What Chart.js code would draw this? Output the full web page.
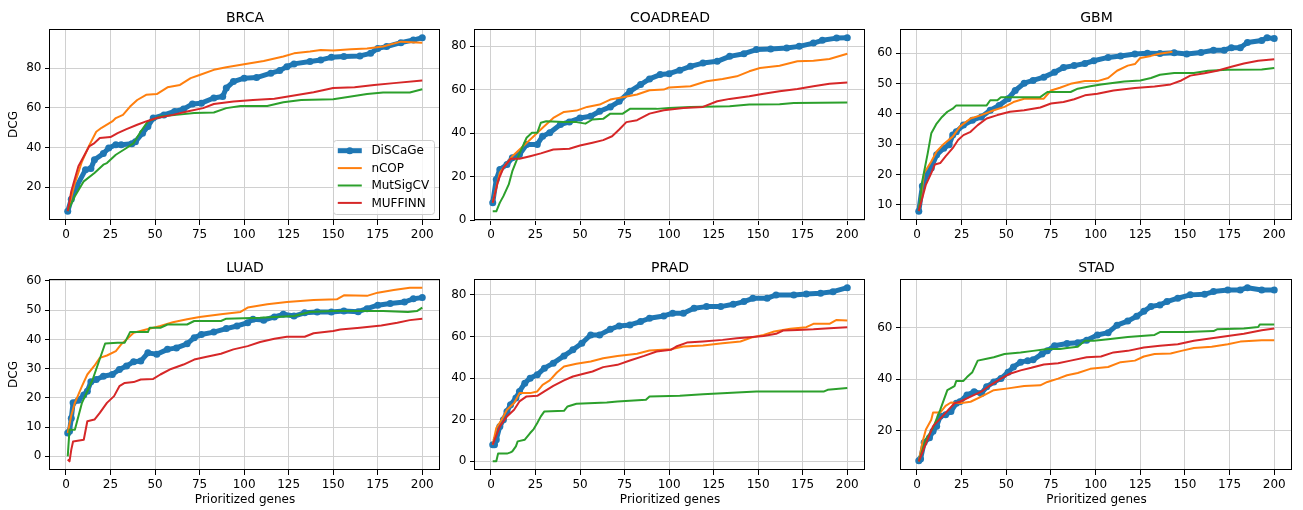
<!DOCTYPE html>
<html>
<head>
<meta charset="utf-8">
<script src="https://cdn.jsdelivr.net/npm/chart.js@4/dist/chart.umd.min.js"></script>
<style>
  body { margin: 0; background: #fff; }
  canvas { position: absolute; }
</style>
</head>
<body>
<canvas id="c0"></canvas>
<canvas id="c1"></canvas>
<canvas id="c2"></canvas>
<canvas id="c3"></canvas>
<canvas id="c4"></canvas>
<canvas id="c5"></canvas>
<script>
// ---- data ----
var PANELS = ["BRCA", "COADREAD", "GBM", "LUAD", "PRAD", "STAD"];
var METHODS = ["DiSCaGe", "nCOP", "MutSigCV", "MUFFINN"];
var X_TICKS = [0, 25, 50, 75, 100, 125, 150, 175, 200];
var X_LABEL = "Prioritized genes";
var Y_LABEL = "DCG";

var BRCA_Y_TICKS = [20, 40, 60, 80];
var COADREAD_Y_TICKS = [0, 20, 40, 60, 80];
var GBM_Y_TICKS = [10, 20, 30, 40, 50, 60];
var LUAD_Y_TICKS = [0, 10, 20, 30, 40, 50, 60];
var PRAD_Y_TICKS = [0, 20, 40, 60, 80];
var STAD_Y_TICKS = [20, 40, 60];

// [gene rank, DCG]
var BRCA_DISCAGE = [[1,7.9],[3,14],[6,20.5],[11,28.9],[14,29.5],[16,33.9],[21,37],[24,39.8],[28,41.5],[31,41.5],[37,42],[39,43],[43,47.3],[46,50.7],[49,54.9],[55,56.5],[61,58.2],[66,59.4],[71,62],[76,62.4],[83,65],[88,65.8],[90,70],[94,73.3],[100,75],[107,75.3],[115,77.5],[120,78.8],[124,80.8],[128,82.2],[137,83.4],[143,84.2],[149,85.5],[156,85.9],[165,86.2],[171,87.5],[175,90],[180,90.9],[188,92.9],[195,94.2],[200,95.4]];
var BRCA_NCOP = [[1,8],[5,22],[9,33],[13,41],[17,48],[20,50],[26,53.2],[28,54.9],[32,56.5],[36,60.7],[40,64],[45,66.6],[51,67],[57,70.4],[64,71.6],[70,75],[75,76.6],[83,79.2],[90,80.5],[100,82],[111,83.7],[122,85.9],[128,87.5],[137,88.4],[143,89.2],[150,88.9],[160,89.6],[169,90],[178,91],[188,93.4],[200,92.9]];
var BRCA_MUTSIGCV = [[1,8],[5,15.5],[10,23],[16,27.2],[21,31.4],[23,32.2],[28,36.4],[34,39.8],[38,42.3],[42,48.1],[46,53.2],[53,55.7],[62,56.5],[72,57.4],[83,57.7],[90,59.9],[98,61],[113,61],[122,62.9],[132,64],[150,64.4],[160,65.8],[169,67],[178,67.8],[193,67.8],[200,69.4]];
var BRCA_MUFFINN = [[1,8],[3,18],[7,30.6],[13,40.6],[16,42.3],[19,44.8],[25,45.3],[29,47.3],[34,49.3],[40,51.5],[45,53.2],[51,54.9],[60,56.5],[68,58.2],[77,59.9],[83,62],[94,63.2],[105,64],[117,64.6],[128,66.3],[139,67.9],[150,70],[162,70.4],[173,71.5],[184,72.5],[200,73.8]];

var COADREAD_DISCAGE = [[1,8],[3,18.7],[5,23.3],[9,25.6],[12,28.7],[16,30.2],[20,34.8],[26,34.8],[29,38.6],[33,40.2],[39,44],[44,45.2],[50,47],[56,47.8],[61,50.1],[67,52.1],[72,54.7],[78,59.3],[84,62.4],[89,65],[95,67],[100,67.4],[106,69],[112,70.8],[119,72.3],[127,73.1],[134,75.4],[142,76.6],[149,78.5],[157,78.8],[166,79.2],[173,80],[181,81.5],[186,82.8],[194,83.8],[200,84]];
var COADREAD_NCOP = [[1,8],[5,21.8],[12,29.4],[18,34],[24,38.6],[29,42.5],[35,47],[41,49.8],[48,50.4],[54,52.1],[61,53.2],[67,55.5],[74,56.6],[82,57.8],[89,59.8],[97,60.1],[100,61.1],[112,61.6],[121,63.9],[130,65],[138,66.2],[145,68.5],[151,70],[162,71.1],[172,73.1],[181,73.4],[190,74.2],[200,76.6]];
var COADREAD_MUTSIGCV = [[1,4],[3,4],[5,8],[7,11],[10,16.4],[12,22.5],[15,28.7],[20,37.9],[23,40.2],[26,40.2],[28,44.8],[31,45.5],[41,45.1],[48,45.1],[53,44.4],[57,46.3],[63,46.6],[67,49],[74,49],[78,51.2],[93,51.2],[100,51.6],[112,52.1],[134,52.4],[145,53.2],[162,53.3],[170,53.9],[200,54.1]];
var COADREAD_MUFFINN = [[1,8],[4,18],[7,24],[11,28.2],[16,28.2],[22,29.4],[28,30.7],[35,32.5],[44,32.8],[50,34.3],[57,35.6],[63,36.8],[68,38.6],[72,41.7],[76,45.1],[82,46],[89,49],[97,50.6],[108,51.6],[119,52.1],[127,54.7],[134,55.8],[145,57],[153,58.2],[162,59.3],[172,60.4],[181,61.6],[190,62.8],[200,63.4]];

var GBM_DISCAGE = [[1,7.9],[3,16.2],[6,20.5],[8,22.2],[11,26.5],[15,28.7],[18,29.8],[20,33],[22,34.1],[26,36.3],[31,37.9],[36,39],[41,41.2],[46,42.8],[51,45],[55,47.7],[60,50.1],[65,51],[71,52.1],[77,53.7],[82,55.3],[88,55.9],[94,56.6],[99,57.5],[107,58.6],[114,59.1],[122,59.7],[129,60],[136,59.9],[144,60.1],[151,59.7],[159,60.2],[166,61],[172,61],[176,61.8],[181,61.8],[185,63.5],[193,64.2],[196,65.1],[200,64.8]];
var GBM_NCOP = [[1,8],[4,20.5],[8,24.3],[11,27.6],[15,30.1],[20,32.5],[24,35.8],[30,38.5],[36,39.6],[43,41.2],[49,42.3],[54,43.9],[60,45],[71,45],[75,47.7],[80,48.6],[86,49.9],[94,50.8],[101,50.8],[107,51.8],[112,54.2],[118,55.9],[122,56.4],[125,58.4],[131,59.1],[135,59.7],[143,60.5]];
var GBM_MUTSIGCV = [[1,8],[3,18],[6,27],[8,33.6],[11,36.8],[14,39],[17,40.7],[20,41.7],[22,42.8],[39,42.8],[41,44.5],[45,44.5],[47,45.5],[69,45.5],[73,47.2],[86,47.2],[90,48.3],[97,49.1],[103,49.7],[116,50.7],[125,51],[131,51.8],[136,52.9],[144,53.5],[155,53.5],[163,54.2],[174,54.5],[193,54.6],[200,55.1]];
var GBM_MUFFINN = [[1,8],[5,16.7],[8,20.5],[10,23.3],[13,23.8],[16,26],[20,28.7],[23,31.4],[26,33],[30,34.1],[34,36.3],[39,38.5],[45,39.6],[52,40.7],[60,41.2],[69,42.1],[75,43.4],[82,43.9],[88,44.8],[94,46.1],[101,46.6],[110,47.7],[122,48.5],[133,49],[142,49.7],[148,51],[153,52.6],[161,53.4],[168,54.2],[176,55.5],[183,56.6],[191,57.5],[200,58]];

var LUAD_DISCAGE = [[1,8],[2,8.6],[3,13],[4,18.3],[7,19.2],[10,21],[12,22.3],[14,25.5],[17,26.3],[21,27.4],[26,28],[30,29.7],[34,30.9],[38,32.4],[42,32.6],[46,35.4],[51,34.9],[57,36.6],[62,37.1],[68,38.5],[72,40.6],[76,41.7],[83,42.5],[90,43.7],[96,44.6],[102,45.7],[105,46.9],[111,46.6],[117,47.7],[122,48.6],[128,48],[134,49.1],[141,49.4],[149,49.4],[156,49.7],[164,49.5],[169,50.5],[175,51.7],[182,52.3],[190,52.8],[195,53.9],[200,54.3]];
var LUAD_NCOP = [[1,8],[3,14],[5,18.3],[9,24],[12,28],[16,31],[19,33.7],[23,34.5],[28,36],[31,38.3],[34,40],[38,42.3],[45,43.4],[53,44.6],[60,45.9],[68,46.9],[75,47.7],[87,48.6],[98,49.4],[102,50.9],[113,52],[124,52.8],[139,53.5],[152,53.7],[156,55.1],[169,54.9],[175,56],[184,56.9],[193,57.7],[200,57.7]];
var LUAD_MUTSIGCV = [[1,0],[2,9.1],[5,9.1],[9,18.3],[15,26.3],[22,38.6],[29,38.9],[33,38.9],[36,42.5],[46,42.5],[47,44],[53,44],[57,45.1],[68,45.1],[72,46.3],[87,46.3],[90,47.1],[109,47.4],[128,48],[137,49.4],[150,49.7],[178,49.7],[192,49.4],[197,49.7],[200,50.9]];
var LUAD_MUFFINN = [[1,-1.1],[2,-1.7],[3,2.3],[4,5.1],[10,5.7],[12,12],[16,12.6],[19,14.9],[23,18.3],[27,20.6],[30,24],[33,25.1],[38,25.4],[42,26.3],[49,26.5],[53,28],[59,29.9],[66,31.4],[72,33.1],[79,34.1],[87,35.1],[94,36.6],[102,37.7],[109,39.1],[117,40.2],[124,40.9],[134,40.9],[139,42.1],[150,42.9],[154,43.4],[165,44],[177,44.8],[186,45.7],[193,46.6],[200,47.1]];

var PRAD_DISCAGE = [[1,8],[2,8],[3,10.4],[5,16.8],[7,20],[9,24],[11,27.2],[14,30.4],[16,33.6],[19,37.6],[22,40],[26,41.6],[30,44.8],[35,47.2],[41,50.7],[46,53.6],[51,56.8],[56,60.8],[61,60.8],[67,63.5],[72,65.1],[78,65.6],[84,67.2],[89,68.8],[97,69.9],[102,71.2],[108,71.2],[114,73.6],[121,74.4],[129,74.4],[136,75.5],[142,76.8],[147,78.4],[155,78.4],[160,80],[170,80],[177,80.5],[185,80.8],[192,81.6],[200,83.5]];
var PRAD_NCOP = [[1,8],[3,16],[6,20],[9,24.8],[13,28],[16,32.8],[22,32.8],[26,33.6],[29,36.8],[33,38.9],[37,42.7],[41,45.6],[48,46.9],[56,48],[63,49.6],[71,50.7],[82,51.7],[89,53.3],[101,53.9],[108,55.2],[119,55.7],[130,56.8],[140,57.6],[147,59.7],[153,60.8],[159,62.4],[168,63.7],[177,64.5],[181,66.1],[190,66.1],[194,68],[200,67.7]];
var PRAD_MUTSIGCV = [[1,0],[3,0],[4,3.7],[9,3.7],[11,4.3],[12,4.8],[14,7.2],[15,9.6],[19,10.4],[22,13.6],[24,15.5],[26,18.4],[28,21.6],[30,24],[41,24.3],[43,26.4],[48,27.7],[65,28.3],[71,28.8],[87,29.6],[89,31.2],[106,31.5],[119,32.3],[138,33.1],[149,33.6],[187,33.6],[189,34.4],[200,35.2]];
var PRAD_MUFFINN = [[1,8],[5,16.8],[9,21.6],[13,24.8],[16,28.8],[20,31.2],[26,31.5],[30,33.6],[35,36.3],[41,38.9],[46,40.8],[52,42.1],[57,43.2],[63,45.3],[71,46.4],[78,48.5],[86,50.7],[93,52.8],[101,53.6],[104,55.2],[110,57.1],[119,57.6],[130,58.4],[138,59.2],[145,59.7],[153,60.3],[160,61.3],[164,62.9],[172,63.2],[181,63.5],[190,64],[200,64.5]];

var STAD_DISCAGE = [[1,8.2],[2,8.9],[4,15.3],[7,17.2],[9,19.7],[11,21.7],[13,25.5],[16,26.1],[19,27.4],[22,30.6],[24,31.2],[28,33.8],[32,35.1],[36,34.4],[39,37],[43,38.9],[47,40.2],[51,42.7],[54,44.7],[58,46.6],[62,47.2],[65,47.5],[70,49.8],[73,51],[77,53],[84,53.9],[90,54.2],[95,55.1],[101,57.2],[107,58.1],[112,61],[118,62.6],[123,64.5],[127,66.4],[131,68.3],[136,68.9],[140,70.2],[146,71.5],[153,72.8],[161,73],[166,74.1],[174,74.7],[181,74.7],[185,75.6],[193,74.7],[200,74.7]];
var STAD_NCOP = [[1,8],[3,15.3],[5,20.4],[8,24.2],[9,27],[13,27],[16,29.6],[19,30.9],[24,30.6],[30,31.2],[36,33.2],[43,35.7],[51,36.4],[60,37.3],[69,37.6],[73,38.9],[79,40.2],[84,41.5],[90,42.4],[97,44],[107,44.7],[114,46.6],[122,47.2],[127,48.8],[133,49.8],[142,50],[148,51],[155,52.1],[165,52.6],[174,53.6],[181,54.6],[193,55.1],[200,55.1]];
var STAD_MUTSIGCV = [[1,8],[5,16.6],[9,21],[13,28],[17,35.7],[21,37.3],[22,39.3],[26,39.3],[28,40.8],[31,42.7],[34,47.2],[39,47.9],[43,48.5],[49,49.8],[58,50.4],[65,51],[73,51.7],[80,51.7],[84,52.1],[90,52.6],[94,54.9],[99,54.9],[107,55.5],[118,56.4],[133,57.2],[136,58.3],[151,58.3],[166,58.7],[168,59.4],[183,59.7],[191,60.3],[192,61.3],[200,61.3]];
var STAD_MUFFINN = [[1,8],[6,16.6],[9,21.7],[15,26.1],[21,30.6],[24,31.2],[30,33.2],[36,35.1],[41,37.6],[47,40.2],[52,42.1],[58,43.4],[64,44.4],[71,45.7],[79,46.2],[86,47.2],[95,48.5],[103,48.8],[110,50.4],[118,51],[127,52.3],[136,53],[146,53.6],[155,54.9],[165,55.9],[174,56.8],[183,57.7],[193,59],[200,59.7]];

// ---- figure layout ----
var COLORS = ["#1f77b4", "#ff7f0e", "#2ca02c", "#d62728"];
var FONT = "DejaVu Sans";

var panelSeries = [
  [BRCA_DISCAGE, BRCA_NCOP, BRCA_MUTSIGCV, BRCA_MUFFINN],
  [COADREAD_DISCAGE, COADREAD_NCOP, COADREAD_MUTSIGCV, COADREAD_MUFFINN],
  [GBM_DISCAGE, GBM_NCOP, GBM_MUTSIGCV, GBM_MUFFINN],
  [LUAD_DISCAGE, LUAD_NCOP, LUAD_MUTSIGCV, LUAD_MUFFINN],
  [PRAD_DISCAGE, PRAD_NCOP, PRAD_MUTSIGCV, PRAD_MUFFINN],
  [STAD_DISCAGE, STAD_NCOP, STAD_MUTSIGCV, STAD_MUFFINN]
];
var panelYTicks = [BRCA_Y_TICKS, COADREAD_Y_TICKS, GBM_Y_TICKS, LUAD_Y_TICKS, PRAD_Y_TICKS, STAD_Y_TICKS];

// canvas boxes: [left, width, y-axis width, right pad]
var cols = [[0, 446, 50, 6], [446, 425, 29, 6], [871, 432, 30, 11]];
// [top, height, x-axis height]
var rows = [[0, 250, 30], [250, 260, 40]];

Chart.defaults.font.family = FONT;
Chart.defaults.font.size = 12;
Chart.defaults.color = "#000";

// frame, title and the legend box, drawn like matplotlib does
var panelDeco = {
  id: "panelDeco",
  afterDraw: function(chart, args, opts) {
    var ctx = chart.ctx, a = chart.chartArea;
    ctx.save();
    ctx.strokeStyle = "#000";
    ctx.lineWidth = 1;
    ctx.strokeRect(Math.floor(a.left) - 0.5, Math.floor(a.top) + 0.5, Math.round(a.right - a.left), Math.round(a.bottom - a.top) - 1);

    ctx.fillStyle = "#000";
    ctx.font = "14px " + FONT;
    ctx.textAlign = "center";
    ctx.textBaseline = "alphabetic";
    ctx.fillText(opts.title, (a.left + a.right) / 2, a.top - 7);

    if (opts.legend) {
      var fs = 12;
      ctx.font = fs + "px " + FONT;
      var maxW = 0;
      METHODS.forEach(function(m) { maxW = Math.max(maxW, ctx.measureText(m).width); });
      var bw = 0.4 * fs + 2 * fs + 0.8 * fs + maxW + 0.4 * fs;
      var bh = 74, rowH = 17.4;
      var bx = a.right - 6 - bw, by = a.bottom - 6 - bh;
      ctx.beginPath();
      ctx.roundRect(bx + 0.5, by + 0.5, bw, bh, 3);
      ctx.fillStyle = "rgba(255,255,255,0.8)";
      ctx.fill();
      ctx.strokeStyle = "#cccccc";
      ctx.stroke();
      chart.data.datasets.forEach(function(ds, i) {
        var y = by + 10.7 + i * rowH;
        var x0 = bx + 0.4 * fs, x1 = x0 + 2 * fs;
        ctx.beginPath();
        ctx.moveTo(x0, y);
        ctx.lineTo(x1, y);
        ctx.strokeStyle = ds.borderColor;
        ctx.lineWidth = ds.borderWidth;
        ctx.stroke();
        if (ds.pointRadius > 0) {
          ctx.beginPath();
          ctx.arc((x0 + x1) / 2, y, ds.pointRadius, 0, Math.PI * 2);
          ctx.fillStyle = ds.borderColor;
          ctx.fill();
        }
        ctx.fillStyle = "#000";
        ctx.textAlign = "left";
        ctx.textBaseline = "middle";
        ctx.fillText(ds.label, x1 + 0.8 * fs, y + 0.5);
      });
    }
    ctx.restore();
  }
};

PANELS.forEach(function(name, p) {
  var col = cols[p % 3], row = rows[Math.floor(p / 3)];
  var bottomRow = p >= 3, leftCol = p % 3 === 0;
  var series = panelSeries[p];

  // autoscale with 5% margins, as matplotlib does
  var xs = [], ys = [];
  series.forEach(function(s) { s.forEach(function(pt) { xs.push(pt[0]); ys.push(pt[1]); }); });
  var xMin = Math.min.apply(null, xs), xMax = Math.max.apply(null, xs);
  var yMin = Math.min.apply(null, ys), yMax = Math.max.apply(null, ys);
  var xm = (xMax - xMin) * 0.05, ym = (yMax - yMin) * 0.05;

  var canvas = document.getElementById("c" + p);
  canvas.width = col[1];
  canvas.height = row[1];
  canvas.style.left = col[0] + "px";
  canvas.style.top = row[0] + "px";

  var datasets = series.map(function(s, i) {
    var main = i === 0;
    return {
      label: METHODS[i],
      data: s.map(function(pt) { return {x: pt[0], y: pt[1]}; }),
      borderColor: COLORS[i],
      backgroundColor: COLORS[i],
      borderWidth: main ? 5 : 2,
      pointRadius: main ? 3.5 : 0,
      pointBorderWidth: 0,
      pointHoverRadius: 0,
      tension: 0,
      fill: false,
      borderJoinStyle: "round",
      order: 3 - i
    };
  });

  var yTicks = panelYTicks[p];
  new Chart(canvas, {
    type: "line",
    data: {datasets: datasets},
    plugins: [panelDeco],
    options: {
      responsive: false,
      animation: false,
      devicePixelRatio: 1,
      events: [],
      layout: {padding: {top: 29, right: col[3], left: 0, bottom: 0}},
      plugins: {
        legend: {display: false},
        tooltip: {enabled: false},
        panelDeco: {title: name, legend: p === 0}
      },
      scales: {
        x: {
          type: "linear",
          min: xMin - xm,
          max: xMax + xm,
          afterBuildTicks: function(s) { s.ticks = X_TICKS.map(function(v) { return {value: v}; }); },
          afterFit: function(s) { s.height = row[2]; },
          ticks: {padding: 3, maxRotation: 0, autoSkip: false, font: {size: 12}, color: "#000"},
          grid: {color: "#d0d0d0", lineWidth: 1, tickColor: "#000", tickLength: 5, tickWidth: 1},
          border: {display: false},
          title: {display: bottomRow, text: X_LABEL, font: {size: 12}, color: "#000", padding: {top: 0, bottom: 3}}
        },
        y: {
          type: "linear",
          min: yMin - ym,
          max: yMax + ym,
          afterBuildTicks: function(s) { s.ticks = yTicks.map(function(v) { return {value: v}; }); },
          afterFit: function(s) { s.width = col[2]; },
          ticks: {padding: 3.5, autoSkip: false, font: {size: 12}, color: "#000"},
          grid: {color: "#d0d0d0", lineWidth: 1, tickColor: "#000", tickLength: 5, tickWidth: 1},
          border: {display: false},
          title: {display: leftCol, text: Y_LABEL, font: {size: 12}, color: "#000", padding: {top: 7, bottom: 0}}
        }
      }
    }
  });
});
</script>
</body>
</html>
